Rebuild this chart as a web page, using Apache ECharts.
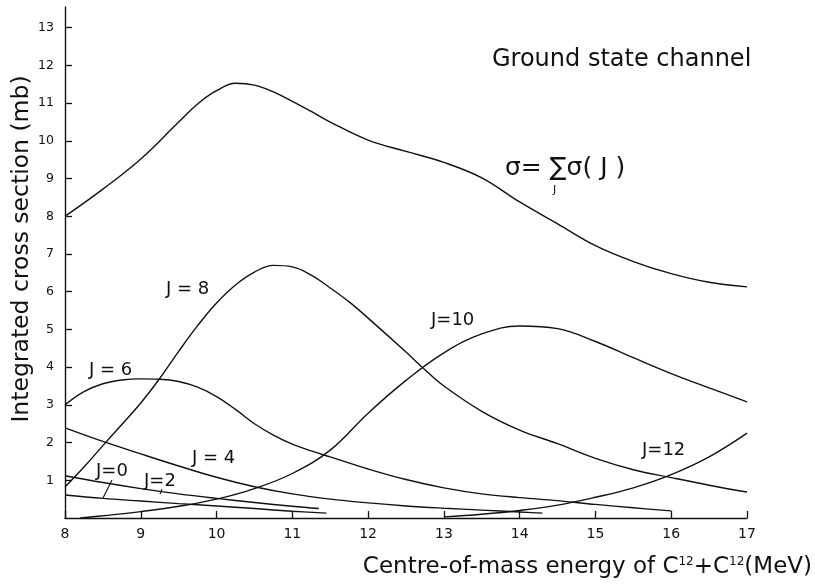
<!DOCTYPE html>
<html>
<head>
<meta charset="utf-8">
<script src="https://cdn.jsdelivr.net/npm/echarts@6/dist/echarts.min.js"></script>
<style>
  html, body { margin: 0; padding: 0; background: #fff; }
  #chart { width: 815px; height: 584px; }
</style>
</head>
<body>
<div id="chart"></div>
<script>
// values: [energy (MeV), cross section (mb)]
let sigmaTotal = [[8, 8.0], [8.5, 8.72], [9, 9.52], [9.5, 10.5], [9.75, 10.98], [10, 11.33], [10.25, 11.53], [10.5, 11.48], [10.75, 11.3], [11, 11.05], [11.25, 10.78], [11.5, 10.5], [12, 10.02], [12.5, 9.72], [13, 9.43], [13.5, 9.02], [14, 8.38], [14.5, 7.8], [15, 7.22], [15.5, 6.8], [16, 6.48], [16.5, 6.25], [17, 6.13]];
let sigmaJ0 = [[8, 0.61], [8.5, 0.52], [9, 0.45], [9.5, 0.38], [10, 0.32], [10.5, 0.25], [11, 0.18], [11.45, 0.13]];
let sigmaJ2 = [[8, 1.12], [8.5, 0.94], [9, 0.78], [9.5, 0.64], [10, 0.52], [10.5, 0.41], [11, 0.31], [11.35, 0.25]];
let sigmaJ4 = [[8, 2.39], [8.5, 2.03], [9, 1.7], [9.5, 1.38], [10, 1.08], [10.5, 0.83], [11, 0.64], [11.5, 0.5], [12, 0.4], [12.5, 0.32], [13, 0.26], [13.5, 0.21], [14, 0.16], [14.3, 0.13]];
let sigmaJ6 = [[8, 3.0], [8.25, 3.35], [8.5, 3.56], [8.75, 3.66], [9, 3.69], [9.25, 3.68], [9.5, 3.62], [9.75, 3.47], [10, 3.22], [10.25, 2.88], [10.5, 2.5], [10.75, 2.2], [11, 1.96], [11.25, 1.78], [11.5, 1.62], [12, 1.3], [12.5, 1.02], [13, 0.8], [13.5, 0.64], [14, 0.54], [14.5, 0.46], [15, 0.36], [15.5, 0.27], [16, 0.19]];
let sigmaJ8 = [[8, 0.82], [8.25, 1.35], [8.5, 1.92], [8.75, 2.48], [9, 3.05], [9.25, 3.7], [9.5, 4.42], [9.75, 5.1], [10, 5.7], [10.25, 6.18], [10.5, 6.52], [10.75, 6.7], [11, 6.66], [11.25, 6.44], [11.5, 6.1], [11.75, 5.73], [12, 5.3], [12.5, 4.4], [12.75, 3.93], [13, 3.5], [13.5, 2.83], [14, 2.33], [14.5, 1.97], [15, 1.58], [15.5, 1.28], [16, 1.07], [16.5, 0.87], [17, 0.69]];
let sigmaJ10 = [[8.2, 0], [8.5, 0.06], [9, 0.17], [9.5, 0.31], [10, 0.5], [10.5, 0.78], [11, 1.18], [11.5, 1.8], [12, 2.78], [12.5, 3.65], [13, 4.38], [13.5, 4.88], [14, 5.09], [14.5, 5.02], [15, 4.68], [15.5, 4.25], [16, 3.83], [16.5, 3.45], [17, 3.08]];
let sigmaJ12 = [[13, 0.03], [13.5, 0.1], [14, 0.2], [14.5, 0.34], [15, 0.55], [15.5, 0.8], [16, 1.15], [16.5, 1.62], [17, 2.25]];

let xTicks = [8, 9, 10, 11, 12, 13, 14, 15, 16, 17];
let yTicks = [1, 2, 3, 4, 5, 6, 7, 8, 9, 10, 11, 12, 13];

let ink = '#111';
let font = 'DejaVu Sans';

let curve = (name, data) => ({
    name: name,
    type: 'line',
    data: data,
    smooth: 0.4,
    showSymbol: false,
    silent: true,
    lineStyle: { color: ink, width: 1.4 }
});

let label = (text, x, y, size) => ({
    type: 'text',
    x: x,
    y: y,
    style: {
        text: text,
        fill: ink,
        font: (size || 17) + 'px "' + font + '"',
        textAlign: 'left',
        textVerticalAlign: 'middle'
    }
});

let leader = (x1, y1, x2, y2) => ({
    type: 'line',
    shape: { x1: x1, y1: y1, x2: x2, y2: y2 },
    style: { stroke: ink, lineWidth: 1.1 }
});

let option = {
    backgroundColor: '#fff',
    animation: false,
    grid: { left: 65, right: 68, top: 7, bottom: 66 },
    xAxis: {
        type: 'value',
        min: 8,
        max: 17,
        interval: 1,
        splitLine: { show: false },
        axisLine: { lineStyle: { color: ink, width: 1.4 } },
        axisTick: { inside: true, length: 7, lineStyle: { color: ink, width: 1.3 }, customValues: xTicks },
        axisLabel: { color: ink, fontFamily: font, fontSize: 14, margin: 9, customValues: xTicks }
    },
    yAxis: {
        type: 'value',
        min: 0,
        max: 13.55,
        splitLine: { show: false },
        axisLine: { lineStyle: { color: ink, width: 1.4 } },
        axisTick: { inside: true, length: 7, lineStyle: { color: ink, width: 1.3 }, customValues: yTicks },
        axisLabel: { color: ink, fontFamily: font, fontSize: 12.5, margin: 11, customValues: yTicks }
    },
    series: [
        curve('total', sigmaTotal),
        curve('J=0', sigmaJ0),
        curve('J=2', sigmaJ2),
        curve('J=4', sigmaJ4),
        curve('J=6', sigmaJ6),
        curve('J=8', sigmaJ8),
        curve('J=10', sigmaJ10),
        curve('J=12', sigmaJ12)
    ],
    graphic: [
        label('Ground state channel', 492, 60, 24),
        label('σ= ∑σ( J )', 505, 168, 25),
        label('J', 553, 190, 11),
        label('J = 8', 166, 289, 18),
        label('J = 6', 89, 370, 18),
        label('J = 4', 192, 458, 18),
        label('J=0', 96, 471, 18),
        label('J=2', 144, 481, 18),
        label('J=10', 431, 320, 18),
        label('J=12', 642, 450, 18),
        leader(112, 480, 103, 498),
        leader(162, 489, 160, 494),
        {
            type: 'text',
            x: 22,
            y: 249,
            rotation: Math.PI / 2,
            style: {
                text: 'Integrated cross section (mb)',
                fill: ink,
                font: '23.5px "' + font + '"',
                textAlign: 'center',
                textVerticalAlign: 'middle'
            }
        },
        {
            type: 'text',
            x: 812,
            y: 567,
            style: {
                text: 'Centre-of-mass energy of C{sup|12}+C{sup|12}(MeV)',
                fill: ink,
                font: '23px "' + font + '"',
                textAlign: 'right',
                textVerticalAlign: 'middle',
                rich: {
                    sup: { fontSize: 12, fontFamily: font, verticalAlign: 'top', padding: [0, 0, 11, 0], fill: ink }
                }
            }
        }
    ]
};

let chart = echarts.init(document.getElementById('chart'));
chart.setOption(option);
</script>
</body>
</html>
